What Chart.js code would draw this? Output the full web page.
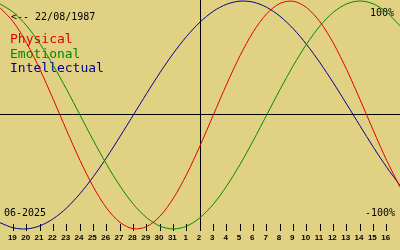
<!DOCTYPE html>
<html>
<head>
<meta charset="utf-8">
<script src="https://cdn.jsdelivr.net/npm/chart.js@4.4.1/dist/chart.umd.min.js"></script>
<style>
  html, body { margin: 0; padding: 0; background: #e0d282; }
  #chart { display: block; background: #e0d282; }
</style>
</head>
<body>
<canvas id="chart" width="400" height="250"></canvas>
<script>
// Days along the bottom (first and last sit on the edges and get no label)
const days = ['18', '19', '20', '21', '22', '23', '24', '25', '26', '27', '28', '29', '30', '31',
              '1', '2', '3', '4', '5', '6', '7', '8', '9', '10', '11', '12', '13', '14', '15', '16', '17'];
const today = '2';

// Values, one per day (-1 .. 1)
const physical = [0.942, 0.817, 0.631, 0.398, 0.136, -0.136, -0.398, -0.631, -0.817, -0.942,
                  -0.998, -0.979, -0.888, -0.731, -0.520, -0.270, 0, 0.270, 0.520, 0.731,
                  0.888, 0.979, 0.998, 0.942, 0.817, 0.631, 0.398, 0.136, -0.136, -0.398, -0.631];
const emotional = [0.975, 0.901, 0.782, 0.623, 0.434, 0.223, 0, -0.223, -0.434, -0.623,
                   -0.782, -0.901, -0.975, -1, -0.975, -0.901, -0.782, -0.623, -0.434, -0.223,
                   0, 0.223, 0.434, 0.623, 0.782, 0.901, 0.975, 1, 0.975, 0.901, 0.782];
const intellectual = [-0.945, -0.990, -0.999, -0.972, -0.910, -0.815, -0.690, -0.541, -0.372, -0.189,
                      0, 0.189, 0.372, 0.541, 0.690, 0.815, 0.910, 0.972, 0.999, 0.990,
                      0.945, 0.866, 0.756, 0.618, 0.458, 0.282, 0.095, -0.095, -0.282, -0.458, -0.618];

const seriesNames = ['Physical', 'Emotional', 'Intellectual'];
const seriesColors = ['#e00000', '#008a00', '#00008c'];

const birthLabel = '<-- 22/08/1987';
const monthLabel = '06-2025';
const topLabel = '100%';
const bottomLabel = '-100%';

// Draws the "today" line and the texts on the chart
const overlayText = {
    id: 'overlayText',
    beforeDatasetsDraw(chart) {
        const ctx = chart.ctx;
        const xScale = chart.scales.x;
        ctx.save();

        // vertical line for today
        const tx = Math.round(xScale.getPixelForValue(days.indexOf(today))) + 0.5;
        ctx.strokeStyle = '#000';
        ctx.lineWidth = 1;
        ctx.beginPath();
        ctx.moveTo(tx, 0);
        ctx.lineTo(tx, chart.chartArea.bottom + 6);
        ctx.stroke();

        ctx.textBaseline = 'alphabetic';
        ctx.fillStyle = '#000';
        ctx.font = '10px "DejaVu Sans Mono"';
        ctx.textAlign = 'left';
        ctx.fillText(birthLabel, 11, 20);
        ctx.fillText(monthLabel, 4, 216);
        ctx.textAlign = 'right';
        ctx.fillText(topLabel, 394, 16);
        ctx.fillText(bottomLabel, 395, 216);

        // coloured names of the curves
        ctx.textAlign = 'left';
        ctx.font = '13px "DejaVu Sans Mono"';
        seriesNames.forEach((name, i) => {
            ctx.fillStyle = seriesColors[i];
            ctx.fillText(name, 10, 43 + i * 14.7);
        });
        ctx.restore();
    }
};

function makeDataset(name, values, color) {
    return {
        label: name,
        data: values,
        borderColor: color,
        borderWidth: 1,
        pointRadius: 0,
        fill: false,
        tension: 0.3,
        clip: false
    };
}

const ctx = document.getElementById('chart').getContext('2d');
const chart = new Chart(ctx, {
    type: 'line',
    data: {
        labels: days,
        datasets: [
            makeDataset(seriesNames[0], physical, seriesColors[0]),
            makeDataset(seriesNames[1], emotional, seriesColors[1]),
            makeDataset(seriesNames[2], intellectual, seriesColors[2])
        ]
    },
    options: {
        responsive: false,
        animation: false,
        devicePixelRatio: 1,
        layout: { padding: 0 },
        plugins: {
            legend: { display: false },
            tooltip: { enabled: false }
        },
        scales: {
            x: {
                type: 'category',
                offset: false,
                grid: {
                    drawOnChartArea: false,
                    drawTicks: true,
                    tickLength: 7,
                    color: '#000',
                    lineWidth: 1
                },
                border: { display: false },
                ticks: {
                    autoSkip: false,
                    maxRotation: 0,
                    padding: 2,
                    labelOffset: -1,
                    color: '#000',
                    font: { family: "'Liberation Sans'", size: 8, weight: 'bold' }
                },
                // drop the two edge days, they have no tick in the picture
                afterBuildTicks: scale => { scale.ticks = scale.ticks.slice(1, -1); },
                afterFit: scale => { scale.height = 26; }
            },
            y: {
                min: -0.95614,
                max: 1.00877,
                grid: {
                    drawTicks: false,
                    color: '#000',
                    lineWidth: 1
                },
                border: { display: false },
                ticks: { display: false },
                // only the zero line
                afterBuildTicks: scale => { scale.ticks = [{ value: 0 }]; },
                afterFit: scale => { scale.width = 0; }
            }
        }
    },
    plugins: [overlayText]
});
</script>
</body>
</html>
